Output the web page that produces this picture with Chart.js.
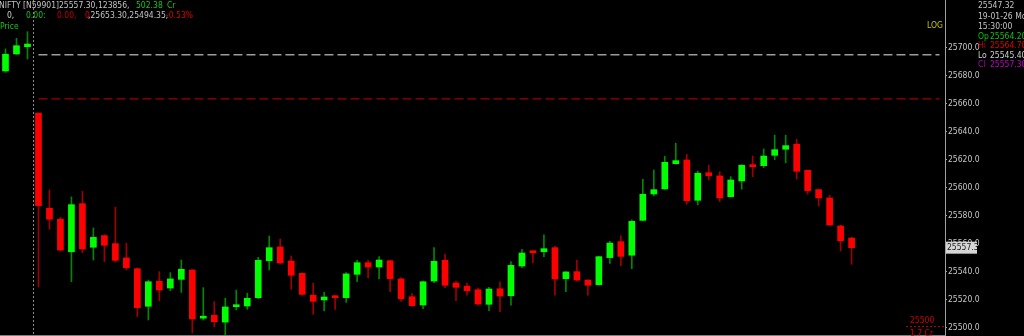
<!DOCTYPE html>
<html>
<head>
<meta charset="utf-8">
<script src="https://cdn.jsdelivr.net/npm/chart.js@4/dist/chart.umd.min.js"></script>
<style>
  html, body { margin: 0; padding: 0; background: #000; overflow: hidden; }
  canvas { display: block; background: #000; }
</style>
</head>
<body>
<canvas id="priceChart" width="1024" height="336"></canvas>
<script>
// 5-minute bars: last three of the previous session, then 19-01-26
const times = [
  '15:20', '15:25', '15:30',
  '09:20', '09:25', '09:30', '09:35', '09:40', '09:45', '09:50', '09:55',
  '10:00', '10:05', '10:10', '10:15', '10:20', '10:25', '10:30', '10:35', '10:40', '10:45', '10:50', '10:55',
  '11:00', '11:05', '11:10', '11:15', '11:20', '11:25', '11:30', '11:35', '11:40', '11:45', '11:50', '11:55',
  '12:00', '12:05', '12:10', '12:15', '12:20', '12:25', '12:30', '12:35', '12:40', '12:45', '12:50', '12:55',
  '13:00', '13:05', '13:10', '13:15', '13:20', '13:25', '13:30', '13:35', '13:40', '13:45', '13:50', '13:55',
  '14:00', '14:05', '14:10', '14:15', '14:20', '14:25', '14:30', '14:35', '14:40', '14:45', '14:50', '14:55',
  '15:00', '15:05', '15:10', '15:15', '15:20', '15:25', '15:30'
];

const opens = [
  25683.4, 25695.5, 25700.7,
  25653.3, 25585.4, 25577.6, 25554.4, 25588.7, 25557.6, 25565.9, 25560.2, 25550.0, 25542.3,
  25515.5, 25533.3, 25528.5, 25534.7, 25541.4, 25507.0, 25509.0, 25504.2, 25515.2, 25515.7,
  25521.6, 25548.0, 25557.8, 25547.8, 25539.0, 25523.3, 25520.0, 25523.0, 25521.6, 25538.3,
  25546.6, 25543.5, 25548.0, 25535.0, 25522.3, 25516.4, 25533.5, 25548.3, 25532.1, 25529.8,
  25527.3, 25516.9, 25528.0, 25523.0, 25544.2, 25554.9, 25554.4, 25557.3, 25535.2, 25540.2,
  25534.2, 25530.9, 25550.2, 25561.6, 25551.9, 25576.8, 25595.6, 25599.2, 25617.2, 25619.9,
  25591.1, 25610.8, 25608.5, 25593.7, 25604.9, 25616.3, 25615.8, 25623.2, 25627.5, 25631.1,
  25612.5, 25598.7, 25592.8, 25572.8, 25564.2
];
const highs = [
  25699.1, 25706.7, 25711.4,
  25653.3, 25598.5, 25579.0, 25593.5, 25597.5, 25571.4, 25566.6, 25586.1, 25560.4, 25542.8,
  25534.2, 25540.2, 25539.5, 25548.5, 25541.6, 25528.8, 25518.8, 25521.2, 25527.1, 25524.7,
  25550.4, 25565.6, 25563.5, 25551.4, 25539.3, 25531.9, 25525.5, 25523.2, 25539.5, 25548.3,
  25548.3, 25550.9, 25548.3, 25535.9, 25524.5, 25533.5, 25557.3, 25552.8, 25533.5, 25532.1,
  25528.5, 25529.0, 25533.0, 25547.3, 25556.2, 25555.0, 25566.4, 25558.5, 25540.2, 25548.5,
  25534.4, 25551.0, 25561.9, 25565.8, 25577.1, 25606.1, 25612.7, 25622.5, 25631.8, 25623.9,
  25612.0, 25616.1, 25611.5, 25608.0, 25616.5, 25622.7, 25627.7, 25637.5, 25637.5, 25634.6,
  25612.7, 25599.0, 25594.7, 25573.3, 25564.7
];
const lows = [
  25682.4, 25695.2, 25691.9,
  25529.5, 25570.4, 25555.0, 25533.0, 25553.7, 25548.5, 25547.3, 25547.1, 25541.4, 25508.1,
  25505.7, 25519.5, 25526.6, 25525.4, 25496.5, 25505.7, 25500.9, 25494.35, 25512.9, 25513.3,
  25521.0, 25541.4, 25546.0, 25527.6, 25523.3, 25509.8, 25512.1, 25513.3, 25518.3, 25533.0,
  25535.7, 25535.0, 25525.9, 25519.0, 25515.6, 25513.8, 25532.3, 25528.8, 25519.5, 25523.5,
  25516.2, 25512.3, 25511.6, 25516.2, 25543.0, 25546.6, 25550.9, 25523.5, 25525.9, 25533.5,
  25523.5, 25530.6, 25546.1, 25544.4, 25542.3, 25576.5, 25594.2, 25598.9, 25617.0, 25588.3,
  25587.8, 25605.6, 25590.1, 25593.5, 25599.0, 25608.0, 25614.4, 25620.1, 25617.9, 25606.3,
  25595.6, 25587.0, 25573.4, 25554.9, 25545.4
];
const closes = [
  25695.3, 25701.4, 25702.6,
  25587.3, 25577.6, 25555.6, 25588.0, 25556.4, 25564.7, 25559.0, 25548.3, 25543.0, 25514.5,
  25533.0, 25527.1, 25535.0, 25541.9, 25506.6, 25508.0, 25504.5, 25515.0, 25516.4, 25521.2,
  25548.3, 25557.3, 25546.4, 25537.6, 25524.0, 25519.0, 25522.1, 25521.6, 25538.6, 25546.6,
  25543.5, 25548.5, 25535.2, 25520.9, 25515.9, 25533.0, 25547.6, 25530.5, 25529.0, 25526.6,
  25517.1, 25527.8, 25522.8, 25544.7, 25553.5, 25553.7, 25556.6, 25535.0, 25540.0, 25534.2,
  25530.5, 25550.9, 25560.6, 25551.1, 25576.1, 25595.4, 25598.7, 25618.2, 25619.4, 25590.8,
  25610.4, 25608.7, 25592.8, 25605.6, 25616.1, 25615.1, 25622.7, 25627.2, 25630.1, 25611.8,
  25598.0, 25592.8, 25573.5, 25562.3, 25557.3
];

const yTicks = [25500, 25520, 25540, 25560, 25580, 25600, 25620, 25640, 25660, 25680, 25700];

const prevClose = 25695.0;   // grey dashed level
const refLevel = 25663.4;    // red dashed level
const sessionStart = 3;      // first bar of the new day
const emptySlots = 8;        // blank room right of the last bar

const GREEN = '#00ff00', RED = '#ff0000';
const GREEN_WICK = '#008800', RED_WICK = '#a00000';

const labels = times.concat(Array(emptySlots).fill(''));
const isUp = closes.map((c, i) => c >= opens[i]);

const levelData = v => labels.map((_, i) => (i >= sessionStart ? v : null));

const overlay = {
  id: 'overlay',
  beforeDatasetsDraw(chart) {
    const { ctx, chartArea, scales } = chart;
    const xs = scales.x;
    const sepX = Math.round((xs.getPixelForValue(sessionStart - 1) + xs.getPixelForValue(sessionStart)) / 2) + 0.5;
    ctx.save();
    ctx.strokeStyle = '#8a8a8a';
    ctx.setLineDash([2, 2]);
    ctx.lineWidth = 1;
    ctx.beginPath();
    ctx.moveTo(sepX, chartArea.top);
    ctx.lineTo(sepX, chartArea.bottom);
    ctx.stroke();
    ctx.restore();
  },
  afterDraw(chart) {
    const { ctx, chartArea, scales } = chart;
    const ys = scales.y;
    const font = "8.5px 'DejaVu Sans Condensed', 'Liberation Sans', sans-serif";
    ctx.save();
    ctx.textBaseline = 'middle';
    ctx.font = font;

    const put = (txt, x, y, color) => { ctx.fillStyle = color; ctx.fillText(txt, x, y); };

    // header
    put('NIFTY [N59901]25557.30,123856,', -1, 6, '#c4c4c4');
    put('502.38', 136, 6, '#14c814');
    put('Cr', 167, 6, '#14c814');
    put('0,', 7, 16, '#d0d0d0');
    put('0.00:', 26, 16, '#14c814');
    put('0.00,', 57, 16, '#c00000');
    put('0', 85, 16, '#e00000');
    put(',25653.30,25494.35,', 88, 16, '#c4c4c4');
    put('-0.53%', 166, 16, '#e00000');
    put('Price', 0, 27, '#14c814');

    put('LOG', 927, 26, '#c8c800');

    // info panel
    const last = closes.length - 1;
    const px = 978;
    put('25547.32', px, 6, '#c4c4c4');
    put('19-01-26 Mon', px, 17, '#c4c4c4');
    put('15:30:00', px, 27, '#c4c4c4');
    put('Op', px, 37, '#10c010');
    put(opens[last].toFixed(2), px + 12, 37, '#10c010');
    put('Hi', px, 46, '#c00000');
    put(highs[last].toFixed(2), px + 12, 46, '#e00000');
    put('Lo', px, 56, '#d0d0d0');
    put(lows[last].toFixed(2), px + 12, 56, '#d0d0d0');
    put('Cl', px, 65, '#b000b0');
    put(closes[last].toFixed(2), px + 12, 65, '#c000c0');

    // volume marker bottom right
    const vy = Math.round(ys.getPixelForValue(25500)) - 1.5;
    ctx.strokeStyle = '#b00000';
    ctx.setLineDash([2, 2]);
    ctx.beginPath();
    ctx.moveTo(906, vy);
    ctx.lineTo(chartArea.right, vy);
    ctx.stroke();
    ctx.setLineDash([]);
    put('25500', 910, 321, '#d00000');
    put('1.7 Cr', 910, 333.5, '#d00000');

    // last price box
    const ly = ys.getPixelForValue(closes[last]);
    ctx.fillStyle = '#d6d6d6';
    ctx.fillRect(chartArea.right + 1, ly - 6, 31, 12);
    ctx.beginPath();
    ctx.rect(chartArea.right + 1, ly - 6, 31, 12);
    ctx.clip();
    put(closes[last].toFixed(1), chartArea.right + 2, ly + 0.5, '#202020');
    ctx.restore();
  }
};

new Chart(document.getElementById('priceChart'), {
  data: {
    labels: labels,
    datasets: [
      {
        type: 'bar',
        label: 'body',
        data: opens.map((o, i) => [o, closes[i]]),
        backgroundColor: isUp.map(u => (u ? GREEN : RED)),
        borderWidth: 0,
        barThickness: 6,
        minBarLength: 2,
        grouped: false,
        order: 1
      },
      {
        type: 'bar',
        label: 'wick',
        data: lows.map((l, i) => [l, highs[i]]),
        backgroundColor: isUp.map(u => (u ? GREEN_WICK : RED_WICK)),
        borderWidth: 0,
        barThickness: 1,
        grouped: false,
        order: 2
      },
      {
        type: 'line',
        label: 'prev close',
        data: levelData(prevClose),
        borderColor: '#9c9c9c',
        borderWidth: 1.5,
        borderDash: [9, 4],
        pointRadius: 0,
        order: 3
      },
      {
        type: 'line',
        label: 'level',
        data: levelData(refLevel),
        borderColor: '#a00000',
        borderWidth: 1.2,
        borderDash: [9, 4],
        pointRadius: 0,
        order: 4
      }
    ]
  },
  options: {
    responsive: false,
    animation: false,
    layout: { padding: 0, autoPadding: false },
    plugins: {
      legend: { display: false },
      tooltip: { enabled: false }
    },
    scales: {
      x: {
        type: 'category',
        offset: true,
        ticks: { display: false },
        grid: { display: false, drawTicks: false },
        border: { display: true, color: '#808080' },
        afterFit: s => { s.height = 1; s.paddingLeft = 0; s.paddingRight = 0; }
      },
      y: {
        type: 'linear',
        position: 'right',
        min: 25495,
        max: 25734,
        afterBuildTicks: s => { s.ticks = yTicks.map(v => ({ value: v })); },
        afterFit: s => { s.width = 79; s.paddingTop = 0; s.paddingBottom = 0; },
        ticks: {
          color: '#c8c8c8',
          padding: 1,
          font: { family: "'DejaVu Sans Condensed', 'Liberation Sans', sans-serif", size: 8.5 },
          callback: v => v.toFixed(1)
        },
        grid: { drawOnChartArea: false, drawTicks: true, tickLength: 2, color: '#a0a0a0' },
        border: { display: true, color: '#a0a0a0' }
      }
    }
  },
  plugins: [overlay]
});
</script>
</body>
</html>
